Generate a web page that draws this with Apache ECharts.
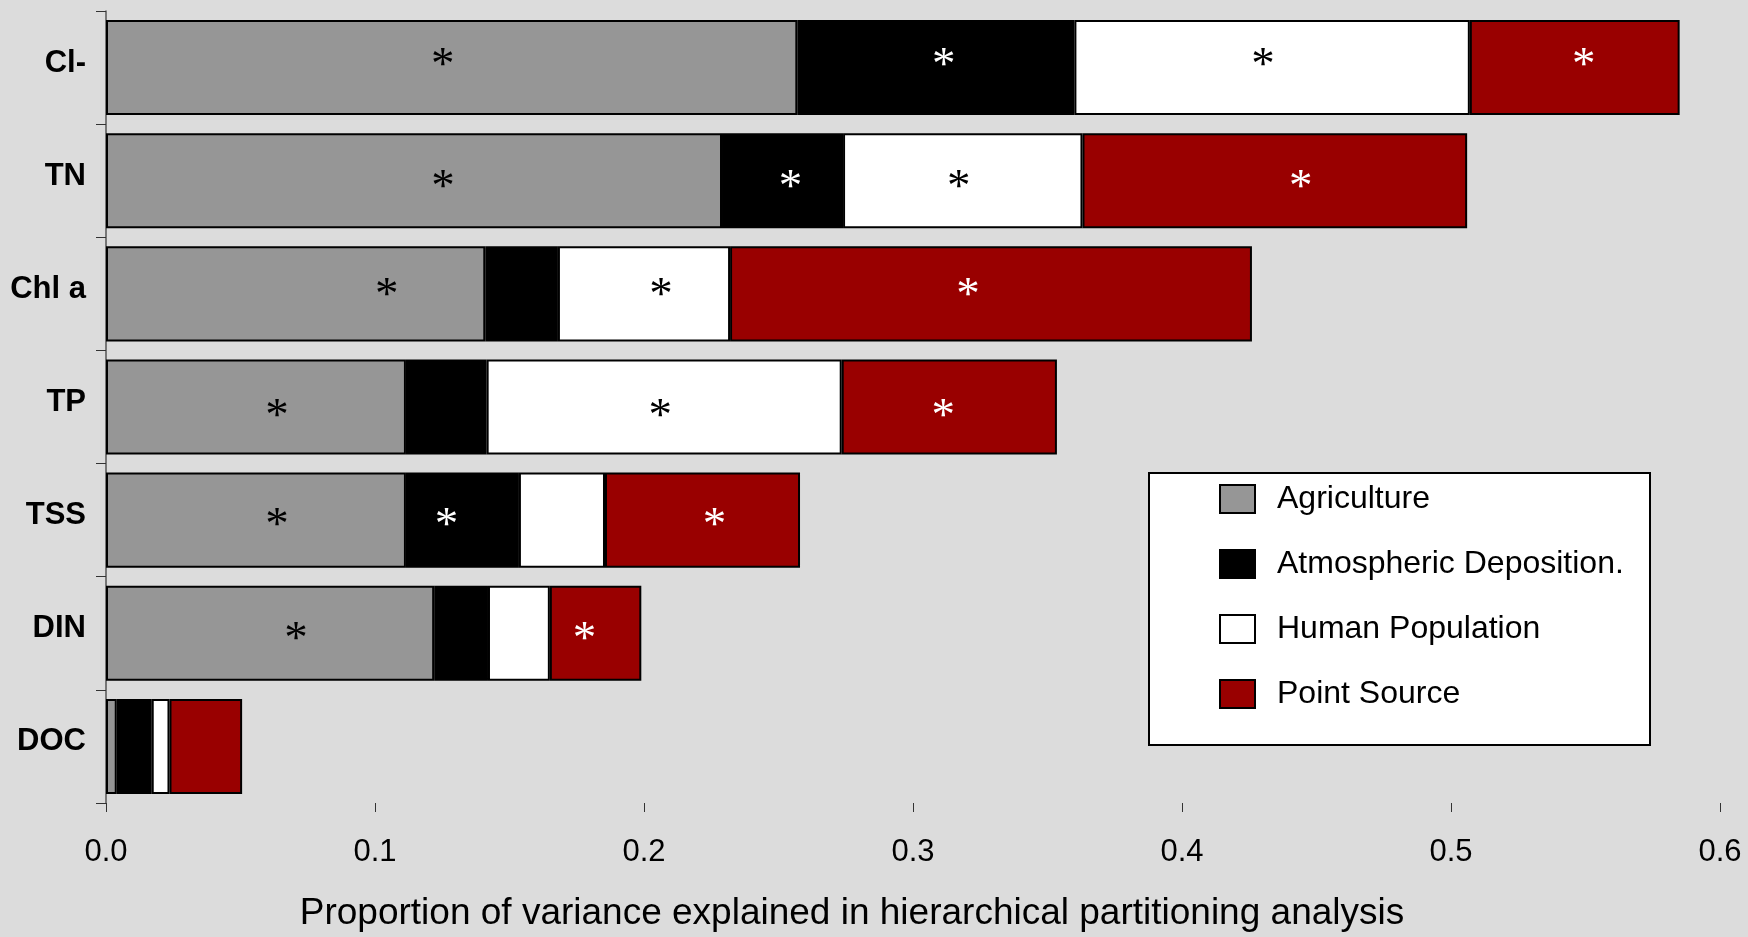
<!DOCTYPE html>
<html>
<head>
<meta charset="utf-8">
<script src="https://cdn.jsdelivr.net/npm/echarts@6/dist/echarts.min.js"></script>
<style>
html,body{margin:0;padding:0;background:#dcdcdc;}
#chart{width:1748px;height:937px;}
</style>
</head>
<body>
<div id="chart"></div>
<script>
const categories = ['Cl-', 'TN', 'Chl a', 'TP', 'TSS', 'DIN', 'DOC'];
const xTicks = [0, 0.1, 0.2, 0.3, 0.4, 0.5, 0.6];

const agriculture = [0.257, 0.229, 0.141, 0.1115, 0.1115, 0.122, 0.004];
const atmospheric = [0.103, 0.045, 0.027, 0.030, 0.042, 0.020, 0.013];
const human       = [0.147, 0.089, 0.064, 0.132, 0.032, 0.023, 0.0066];
const pointSource = [0.078, 0.143, 0.194, 0.080, 0.0725, 0.034, 0.027];

// significance (asterisk) flags
const sigAgriculture = [true, true, true, true, true, true, false];
const sigAtmospheric = [true, true, false, false, true, false, false];
const sigHuman       = [true, true, true, true, false, false, false];
const sigPoint       = [true, true, true, true, true, true, false];

const seriesNames = ['Agriculture', 'Atmospheric Deposition.', 'Human Population', 'Point Source'];
const values = [agriculture, atmospheric, human, pointSource];
const sigs = [sigAgriculture, sigAtmospheric, sigHuman, sigPoint];

// --- styling ---
const seriesColors = ['#969696', '#000000', '#ffffff', '#990000'];
const starColors = ['#000000', '#ffffff', '#000000', '#ffffff'];
// hand-placed asterisk nudges (pixels) as in the original figure
const starDx = [
  [-9, 29, 91, 21, 21, 26, 0],
  [8, 8, 0, 0, -16, 0, 0],
  [-9, -4, 17, -4, 0, 0, 0],
  [9, 26, -23, -6, 12, -11, 0]
];
const starDy = [-1, 8, 3, 11, 7, 7, 7];

const chart = echarts.init(document.getElementById('chart'), null, {renderer: 'canvas'});

const series = seriesNames.map((name, s) => ({
  name: name,
  type: 'bar',
  stack: 'total',
  barCategoryGap: '16%',
  itemStyle: {color: seriesColors[s], borderColor: '#000', borderWidth: 2},
  label: {
    show: false,
    position: 'inside',
    formatter: '*',
    fontFamily: 'Liberation Serif',
    fontSize: 47,
    color: starColors[s]
  },
  data: values[s].map((v, i) => ({
    value: v,
    label: {show: sigs[s][i], offset: [starDx[s][i], starDy[i]]}
  }))
}));

chart.setOption({
  backgroundColor: '#dcdcdc',
  animation: false,
  grid: {left: 106, right: 28, top: 11, bottom: 125, containLabel: false},
  legend: {
    orient: 'vertical',
    left: 1214,
    top: 478,
    itemWidth: 35,
    itemHeight: 28,
    itemGap: 33,
    icon: 'rect',
    data: seriesNames,
    textStyle: {fontFamily: 'Liberation Sans', fontSize: 32, color: '#000', padding: [0, 0, 0, 17]},
    itemStyle: {borderColor: '#000', borderWidth: 2}
  },
  graphic: [{
    type: 'rect',
    z: -1,
    shape: {x: 1149, y: 473, width: 501, height: 272},
    style: {fill: '#ffffff', stroke: '#000000', lineWidth: 2}
  }],
  xAxis: {
    type: 'value',
    min: xTicks[0],
    max: xTicks[xTicks.length - 1],
    interval: 0.1,
    name: 'Proportion of variance explained in hierarchical partitioning analysis',
    nameLocation: 'middle',
    nameGap: 92,
    nameTextStyle: {fontFamily: 'Liberation Sans', fontSize: 37, color: '#000', padding: [0, 122, 0, 0]},
    axisLine: {lineStyle: {color: '#555', width: 1.5}},
    axisTick: {show: true, inside: false, length: 9, lineStyle: {color: '#333'}},
    axisLabel: {
      formatter: v => v.toFixed(1),
      fontFamily: 'Liberation Sans',
      fontSize: 31,
      color: '#000',
      margin: 34
    },
    splitLine: {show: false}
  },
  yAxis: {
    type: 'category',
    inverse: true,
    data: categories,
    axisLine: {lineStyle: {color: '#555', width: 1.5}},
    axisTick: {show: true, length: 10, lineStyle: {color: '#333'}},
    axisLabel: {
      fontFamily: 'Liberation Sans',
      fontWeight: 'bold',
      fontSize: 31,
      color: '#000',
      margin: 20,
      verticalAlign: 'bottom',
      lineHeight: 9
    },
    splitLine: {show: false}
  },
  series: series
});
</script>
</body>
</html>
